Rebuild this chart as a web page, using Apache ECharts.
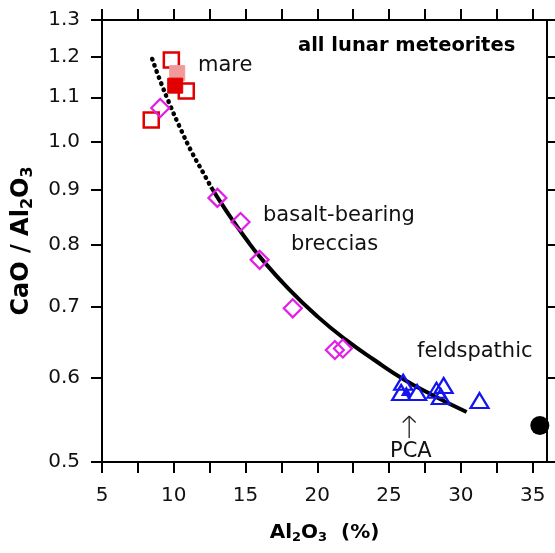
<!DOCTYPE html>
<html><head><meta charset="utf-8">
<script src="https://cdn.jsdelivr.net/npm/echarts@6/dist/echarts.min.js"></script>
<style>html,body{margin:0;padding:0;background:#fff}#c{width:555px;height:553px}</style>
</head><body><div id="c"></div>
<script>
// ---- data (Al2O3 %, CaO/Al2O3) ----
const xTicks = [5,7.5,10,12.5,15,17.5,20,22.5,25,27.5,30,32.5,35];
const xLabels = [5,10,15,20,25,30,35];
const yTicks = [0.5,0.6,0.7,0.8,0.9,1.0,1.1,1.2,1.3];
const mareHollow = [[9.83,1.192],[10.87,1.115],[8.43,1.047]];
const marePink = [[10.24,1.159]];
const mareFilled = [[10.1,1.128]];
const basaltBreccias = [[9.06,1.075],[13.04,0.885],[14.65,0.840],[15.98,0.774],[18.29,0.697],[21.22,0.637],[21.78,0.639]];
const feldspathic = [[25.98,0.594],[25.84,0.581],[26.95,0.581],[28.3,0.584],[28.8,0.590],[28.6,0.576],[31.3,0.571]];
const pca = [[26.2,0.583]];
const bigCircle = [[35.5,0.541]];
const curveDotted = [[8.5,1.195],[9.0,1.145],[9.76,1.080],[10.45,1.029],[11.2,0.980],[12.0,0.937],[12.6,0.906]];
const curveSolid = [[12.6,0.906],[13,0.888],[14,0.847],[15,0.811],[16,0.779],[18,0.727],[20,0.685],[22,0.651],[24,0.623],[26,0.598],[28,0.578],[30.4,0.557]];
const arrowShaft = [[26.4,0.5266],[26.4,0.552]];
const arrowHead = [[25.95,0.5445],[26.4,0.552],[26.85,0.5445]];

const L = v => Math.log10(v);
const T = arr => arr.map(p => [p[0], L(p[1])]);
const FONT = 'DejaVu Sans';
const AX = '#000';

const chart = echarts.init(document.getElementById('c'));
const tickStyle = {show:true, inside:false, length:11, lineStyle:{color:AX, width:2}};
const lineStyle = {show:true, onZero:false, lineStyle:{color:AX, width:2}};
const sub = {fontSize:13, fontWeight:'bold', fontFamily:FONT, color:'#000', padding:[9,0,0,0]};
const subV = {fontSize:16, fontWeight:'bold', fontFamily:FONT, color:'#000', padding:[12,0,0,0]};

chart.setOption({
  animation:false,
  backgroundColor:'#fff',
  grid:{left:102, right:8, top:20, bottom:91, containLabel:false},
  xAxis:[{
    type:'value', min:5, max:36, position:'bottom',
    axisLine:lineStyle,
    axisTick:Object.assign({customValues:xTicks}, tickStyle),
    axisLabel:{customValues:xLabels, margin:24, fontSize:20, fontFamily:FONT, color:'#111'},
    splitLine:{show:false},
    name:'Al{s|2}O{s|3}  (%)', nameLocation:'middle', nameGap:60,
    nameTextStyle:{fontSize:20, fontWeight:'bold', fontFamily:FONT, color:'#000', rich:{s:sub}}
  },{
    type:'value', min:5, max:36, position:'top',
    axisLine:lineStyle,
    axisTick:Object.assign({customValues:xTicks}, tickStyle),
    axisLabel:{show:false}, splitLine:{show:false}
  }],
  yAxis:[{
    type:'value', min:L(0.5), max:L(1.3), position:'left',
    axisLine:lineStyle,
    axisTick:Object.assign({customValues:yTicks.map(L)}, tickStyle),
    axisLabel:{customValues:yTicks.map(L), margin:22, fontSize:20, fontFamily:FONT, color:'#111',
      formatter:v => (Math.pow(10,v)).toFixed(1)},
    splitLine:{show:false},
    name:'CaO / Al{s|2}O{s|3}', nameLocation:'middle', nameGap:66, nameRotate:90,
    nameTextStyle:{fontSize:24, fontWeight:'bold', fontFamily:FONT, color:'#000', rich:{s:subV}}
  },{
    type:'value', min:L(0.5), max:L(1.3), position:'right',
    axisLine:lineStyle,
    axisTick:Object.assign({customValues:yTicks.map(L)}, tickStyle),
    axisLabel:{show:false}, splitLine:{show:false}
  }],
  series:[
    {type:'line', data:T(curveDotted), smooth:true, symbol:'none', z:2,
      lineStyle:{color:'#000', width:4.5, type:[0.5,6], cap:'round'}},
    {type:'line', data:T(curveSolid), smooth:true, symbol:'none', z:2,
      lineStyle:{color:'#000', width:4}},
    {type:'scatter', data:T(mareHollow), symbol:'rect', symbolSize:15, z:3,
      itemStyle:{opacity:1, color:'rgba(0,0,0,0)', borderColor:'#e00000', borderWidth:2.5}},
    {type:'scatter', data:T(marePink), symbol:'rect', symbolSize:15, z:3,
      itemStyle:{opacity:1, color:'#f29a9a', borderColor:'#f29a9a', borderWidth:1}},
    {type:'scatter', data:T(mareFilled), symbol:'rect', symbolSize:15, z:4,
      itemStyle:{opacity:1, color:'#e00000', borderColor:'#e00000', borderWidth:1}},
    {type:'scatter', data:T(basaltBreccias), symbol:'diamond', symbolSize:[18,18], z:3,
      itemStyle:{opacity:1, color:'rgba(0,0,0,0)', borderColor:'#e21ee6', borderWidth:2.2}},
    {type:'scatter', data:T(feldspathic), symbol:'triangle', symbolSize:[18,15], z:3,
      itemStyle:{opacity:1, color:'rgba(0,0,0,0)', borderColor:'#1414f0', borderWidth:2.2}},
    {type:'scatter', data:T(pca), symbol:'triangle', symbolSize:[11,10], z:4,
      itemStyle:{opacity:1, color:'#1414f0'}},
    {type:'scatter', data:T(bigCircle), symbol:'circle', symbolSize:19, z:3,
      itemStyle:{opacity:1, color:'#000'}},
    {type:'line', data:T(arrowShaft), symbol:'none', z:3, lineStyle:{color:'#222', width:1.3}},
    {type:'line', data:T(arrowHead), symbol:'none', z:3, lineStyle:{color:'#222', width:1.3}}
  ],
  graphic:[
    {type:'text', left:298, top:36, style:{text:'all lunar meteorites', font:'bold 19.5px "DejaVu Sans"', fill:'#000'}},
    {type:'text', left:198, top:55, style:{text:'mare', font:'21px "DejaVu Sans"', fill:'#111'}},
    {type:'text', left:263, top:205, style:{text:'basalt-bearing', font:'21px "DejaVu Sans"', fill:'#111'}},
    {type:'text', left:291, top:234, style:{text:'breccias', font:'21px "DejaVu Sans"', fill:'#111'}},
    {type:'text', left:417, top:341, style:{text:'feldspathic', font:'21px "DejaVu Sans"', fill:'#111'}},
    {type:'text', left:390, top:441, style:{text:'PCA', font:'21px "DejaVu Sans"', fill:'#111'}}
  ]
});
</script></body></html>
